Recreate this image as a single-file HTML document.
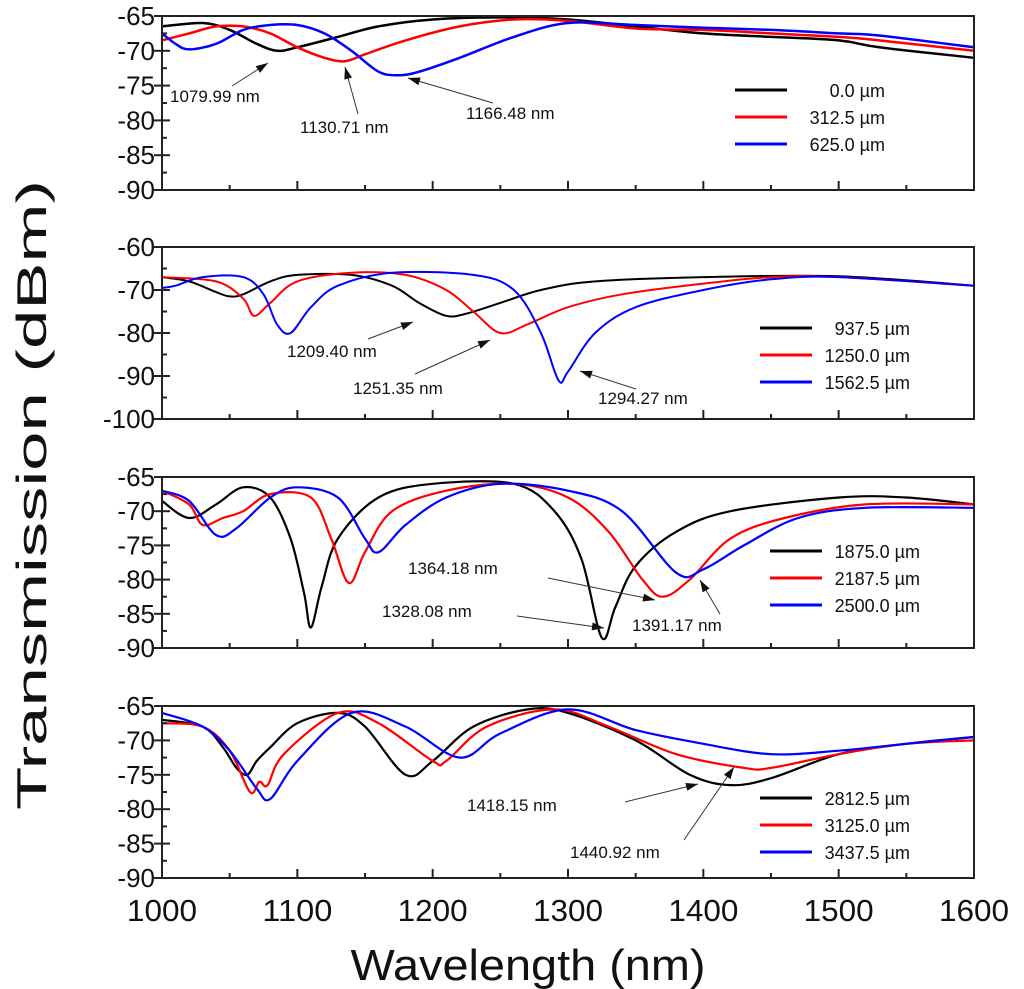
<!DOCTYPE html>
<html><head><meta charset="utf-8"><style>
body{margin:0;background:#fff}
svg{display:block;font-family:"Liberation Sans",sans-serif}
</style></head><body>
<svg id="c" width="1024" height="989" viewBox="0 0 1024 989"></svg>
<script>
const panelTicks1=[-65,-70,-75,-80,-85,-90];
const panelTicks2=[-60,-70,-80,-90,-100];
const xTicks=[1000,1100,1200,1300,1400,1500,1600];
const legends1=["0.0 µm","312.5 µm","625.0 µm"];
const legends2=["937.5 µm","1250.0 µm","1562.5 µm"];
const legends3=["1875.0 µm","2187.5 µm","2500.0 µm"];
const legends4=["2812.5 µm","3125.0 µm","3437.5 µm"];

const p1bW=[1000,1030,1050,1070,1085,1100,1130,1160,1200,1250,1300,1350,1400,1450,1500,1530,1600];
const p1bV=[-66.5,-66,-67,-69,-70,-69.5,-68,-66.5,-65.5,-65.2,-65.5,-66.5,-67.5,-68,-68.5,-69.5,-71];
const p1rW=[1000,1020,1040,1060,1080,1100,1120,1135,1150,1180,1220,1260,1300,1350,1400,1450,1500,1530,1600];
const p1rV=[-68.5,-67.5,-66.5,-66.5,-67.5,-69.5,-71,-71.5,-70.5,-68.5,-66.5,-65.5,-65.7,-66.8,-67,-67.5,-68,-68.5,-70];
const p1lW=[1000,1010,1020,1040,1060,1080,1100,1120,1140,1160,1175,1190,1220,1260,1300,1350,1400,1450,1500,1530,1600];
const p1lV=[-67.5,-69,-69.8,-69,-67,-66.3,-66.3,-67.5,-70,-73,-73.5,-73,-71,-68,-66,-66.3,-66.7,-67,-67.5,-67.8,-69.5];

const p2bW=[1000,1020,1040,1050,1060,1080,1100,1140,1170,1190,1210,1225,1250,1280,1320,1400,1500,1600];
const p2bV=[-67,-68,-70.5,-71.5,-71,-68,-66.5,-66.5,-69,-73,-76,-75.5,-73,-70,-68,-67,-66.8,-69];
const p2rW=[1000,1040,1060,1068,1080,1100,1140,1180,1210,1230,1250,1270,1300,1340,1400,1450,1500,1600];
const p2rV=[-67,-68,-72,-76,-73,-68,-66,-66.5,-70,-75,-80,-78,-74,-71,-68.5,-67,-67,-69];
const p2lW=[1000,1010,1030,1060,1075,1085,1095,1110,1130,1170,1230,1260,1280,1293,1300,1320,1350,1400,1450,1500,1600];
const p2lV=[-69.5,-69,-67,-67,-71,-78,-80,-74,-69,-66,-66.5,-70,-80,-91,-89,-80,-74,-70,-67.5,-67,-69];

const p3bW=[1000,1020,1040,1060,1080,1095,1105,1110,1118,1130,1160,1200,1260,1290,1310,1325,1335,1350,1380,1420,1500,1550,1600];
const p3bV=[-68.5,-71,-69,-66.5,-68,-74,-82,-87,-81,-74,-68,-66,-66,-70,-77,-88.5,-84,-78,-73,-70,-68,-68,-69];
const p3rW=[1000,1020,1030,1045,1060,1080,1110,1125,1138,1150,1170,1210,1260,1300,1330,1355,1370,1390,1420,1460,1520,1600];
const p3rV=[-67,-69,-72,-71,-70,-67.5,-68,-74,-80.5,-76,-70,-67,-66,-68,-73,-80,-82.5,-80,-74,-71,-69,-69];
const p3lW=[1000,1020,1040,1055,1080,1100,1130,1150,1160,1180,1210,1250,1300,1340,1380,1400,1430,1470,1520,1600];
const p3lV=[-67,-68.5,-73.5,-72.5,-68,-66.5,-68,-74,-76,-72,-68,-66,-67,-70,-79,-78.5,-75,-71,-69.5,-69.5];

const p4bW=[1000,1030,1045,1055,1063,1070,1080,1100,1130,1150,1180,1200,1230,1270,1300,1350,1390,1420,1450,1500,1550,1600];
const p4bV=[-67,-68,-71,-74,-75,-73,-71,-67.5,-66,-68,-75,-73,-68,-65.5,-66,-70,-75,-76.5,-75.5,-72,-70.5,-69.5];
const p4rW=[1000,1030,1050,1065,1072,1078,1090,1130,1160,1200,1210,1240,1290,1330,1380,1430,1450,1500,1550,1600];
const p4rV=[-67.5,-68,-71.5,-77.5,-76,-76.5,-72,-66,-67.5,-73,-73,-68,-65.5,-68,-72,-74,-74,-72,-70.5,-70];
const p4lW=[1000,1030,1050,1070,1080,1100,1140,1180,1220,1250,1300,1350,1400,1450,1500,1550,1600];
const p4lV=[-66,-68,-71.5,-77,-78.5,-73,-66,-68,-72.5,-69,-65.5,-68.5,-70.5,-72,-71.5,-70.5,-69.5];

const NS="http://www.w3.org/2000/svg";
const svg=document.getElementById('c');
function mk(t,a,p){const e=document.createElementNS(NS,t);for(const k in a)e.setAttribute(k,a[k]);(p||svg).appendChild(e);return e;}
const X0=162,X1=974;
function xs(w){return X0+(w-1000)/600*(X1-X0);}
function smooth(pts){
 let d='M'+pts[0][0].toFixed(1)+','+pts[0][1].toFixed(1);
 for(let i=0;i<pts.length-1;i++){
  const p0=pts[Math.max(0,i-1)],p1=pts[i],p2=pts[i+1],p3=pts[Math.min(pts.length-1,i+2)];
  const c1x=p1[0]+(p2[0]-p0[0])/6,c1y=p1[1]+(p2[1]-p0[1])/6;
  const c2x=p2[0]-(p3[0]-p1[0])/6,c2y=p2[1]-(p3[1]-p1[1])/6;
  d+='C'+c1x.toFixed(1)+','+c1y.toFixed(1)+' '+c2x.toFixed(1)+','+c2y.toFixed(1)+' '+p2[0].toFixed(1)+','+p2[1].toFixed(1);
 }
 return d;
}

const panels=[
 {top:16,bot:190,ymax:-65,ymin:-90,ticks:panelTicks1,series:[[p1bW,p1bV],[p1rW,p1rV],[p1lW,p1lV]],leg:legends1,lx:735,ly:90,lw:2.5},
 {top:247,bot:419,ymax:-60,ymin:-100,ticks:panelTicks2,series:[[p2bW,p2bV],[p2rW,p2rV],[p2lW,p2lV]],leg:legends2,lx:760,ly:328,lw:2},
 {top:477,bot:648,ymax:-65,ymin:-90,ticks:panelTicks1,series:[[p3bW,p3bV],[p3rW,p3rV],[p3lW,p3lV]],leg:legends3,lx:770,ly:551,lw:2.2},
 {top:706,bot:878,ymax:-65,ymin:-90,ticks:panelTicks1,series:[[p4bW,p4bV],[p4rW,p4rV],[p4lW,p4lV]],leg:legends4,lx:760,ly:798,lw:2.2}
];
const colors=["#000","#f00","#00f"];
panels.forEach((P,pi)=>{
 const g=mk('g',{});
 
 
 const ys=v=>P.top+(P.ymax-v)/(P.ymax-P.ymin)*(P.bot-P.top);
 P.series.forEach((s,si)=>{
  const pts=s[0].map((w,i)=>[xs(w),ys(s[1][i])]);
  const pth=mk('path',{d:smooth(pts),fill:'none',stroke:colors[si],'stroke-width':P.lw,'stroke-linejoin':'round'},g);
  
  
 });
 const fr=mk('rect',{x:X0,y:P.top,width:X1-X0,height:P.bot-P.top,fill:'none',stroke:'#222','stroke-width':2},g);
 
 
 const step=P.ticks[0]-P.ticks[1];
 for(let v=P.ymax;v>=P.ymin;v-=step/2){
  const major=Math.abs(((P.ymax-v)%step))<1e-6;
  mk('line',{x1:major?X0-8:X0,x2:X0+(major?8:5),y1:ys(v),y2:ys(v),stroke:'#222','stroke-width':2},g);
 }
 P.ticks.forEach(v=>{
  const t=mk('text',{x:155,y:ys(v)+9,'text-anchor':'end','font-size':26,fill:'#111'},g);
  t.textContent=v;
  
  
 });
 for(let w=1000;w<=1600;w+=50){
  const major=w%100===0;
  mk('line',{x1:xs(w),x2:xs(w),y1:P.bot,y2:P.bot-(major?9:5),stroke:'#222','stroke-width':2},g);
 }
 P.leg.forEach((l,i)=>{
  const y=P.ly+i*27;
  mk('line',{x1:P.lx,x2:P.lx+52,y1:y,y2:y,stroke:colors[i],'stroke-width':3},g);
  const t=mk('text',{x:P.lx+150,y:y+7,'text-anchor':'end','font-size':18,fill:'#111'},g);
  t.textContent=l;
  
  
 });
});
const anns=[
 ["1079.99 nm",170,102,232,86,268,63],["1130.71 nm",300,133,358,114,345,67],["1166.48 nm",466,119,493,103,408,78],
 ["1209.40 nm",287,357,368,339,413,322],["1251.35 nm",353,394,415,374,490,340],["1294.27 nm",598,404,636,389,580,371],
 ["1364.18 nm",408,574,548,578,655,600],["1328.08 nm",382,617,517,616,604,628],["1391.17 nm",632,631,720,614,700,580],
 ["1418.15 nm",467,811,625,802,698,784],["1440.92 nm",570,858,684,840,734,767]
];
anns.forEach(a=>{
 const t=mk('text',{x:a[1],y:a[2],'font-size':17,fill:'#111'});
 t.textContent=a[0];
 
 
 mk('line',{x1:a[3],y1:a[4],x2:a[5],y2:a[6],stroke:'#333','stroke-width':1});
 const ang=Math.atan2(a[6]-a[4],a[5]-a[3]),L=12,W=4;
 const bx=a[5]-L*Math.cos(ang),by=a[6]-L*Math.sin(ang);
 mk('polygon',{points:`${a[5]},${a[6]} ${bx-W*Math.sin(ang)},${by+W*Math.cos(ang)} ${bx+W*Math.sin(ang)},${by-W*Math.cos(ang)}`,fill:'#111'});
});
xTicks.forEach(w=>{
 const t=mk('text',{x:xs(w),y:921,'text-anchor':'middle','font-size':31,fill:'#111',textLength:70,lengthAdjust:'spacingAndGlyphs'});
 t.textContent=w;
 
 
});
const xt=mk('text',{x:528,y:980,'text-anchor':'middle','font-size':44,fill:'#111',textLength:355,lengthAdjust:'spacingAndGlyphs'});
xt.textContent='Wavelength (nm)';


const yt=mk('text',{x:0,y:0,'text-anchor':'middle','font-size':42,fill:'#111',textLength:630,lengthAdjust:'spacingAndGlyphs',transform:'translate(46,495) rotate(-90)'});
yt.textContent='Transmission (dBm)';


</script>
</body></html>
